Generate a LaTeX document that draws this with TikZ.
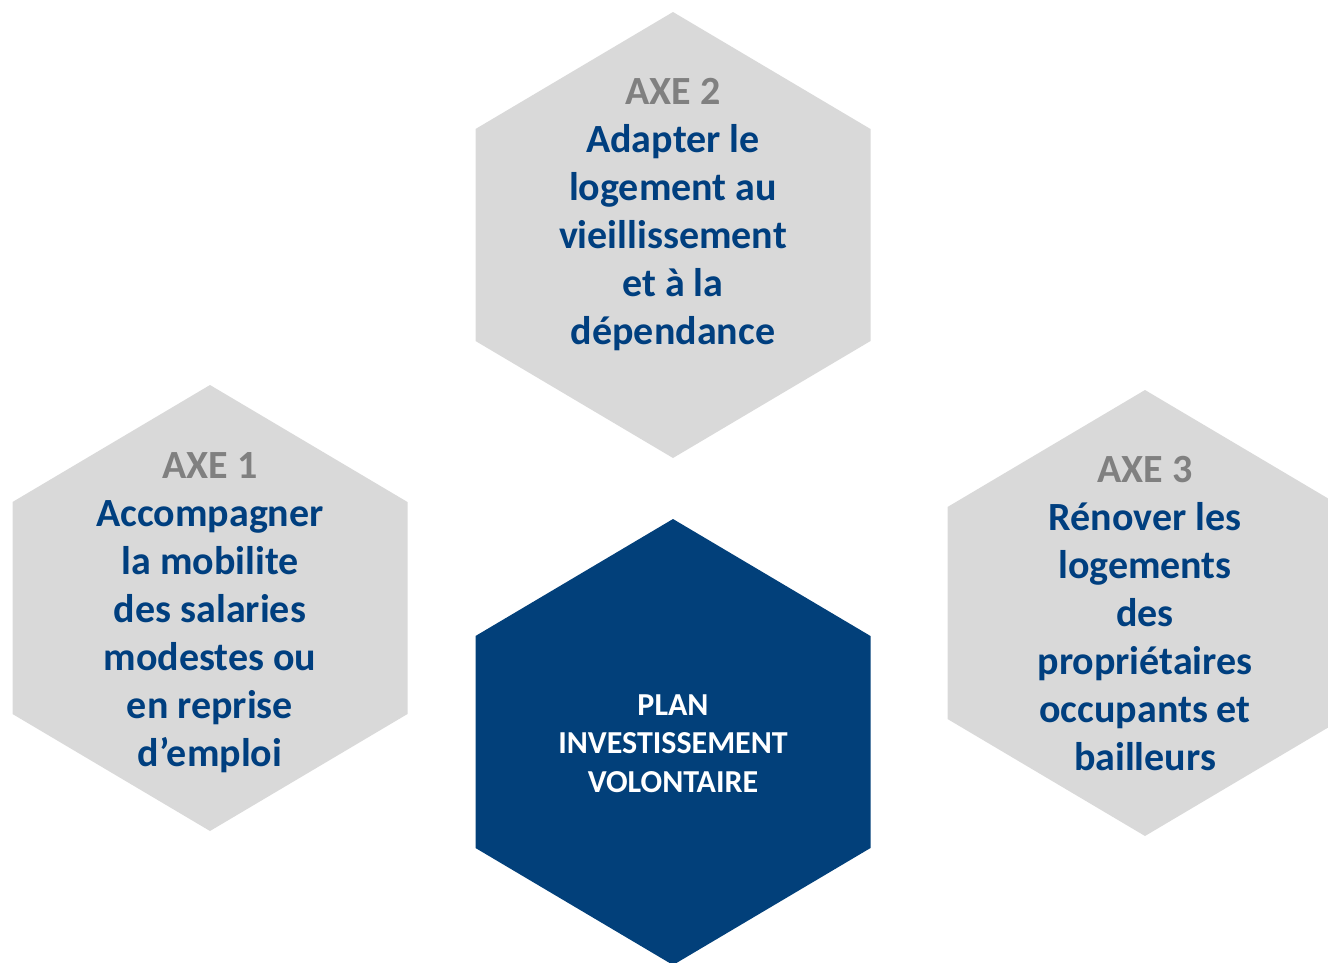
\documentclass[tikz,border=0pt]{standalone}
\usepackage{fontspec}
\setmainfont{Carlito}
\definecolor{hexgray}{HTML}{D9D9D9}
\definecolor{hexblue}{HTML}{02407A}
\definecolor{txtblue}{HTML}{003F7F}
\definecolor{axegray}{HTML}{808080}
\tikzset{
  axetext/.style={align=center, text=txtblue, font=\bfseries\fontsize{40}{48}\selectfont, inner sep=0pt},
  plantext/.style={align=center, text=white, font=\bfseries\fontsize{32}{38.5}\selectfont, inner sep=0pt}
}
\newcommand\hexagone[3]{%
  \fill[#3] (#1,#2) -- ++(197.5,117) -- ++(0,212) -- ++(-197.5,117) -- ++(-197.5,-117) -- ++(0,-212) -- cycle;}
\begin{document}
\begin{tikzpicture}[x=1pt,y=-1pt]
\useasboundingbox (0,0) rectangle (1328,962);
\begin{scope}
\clip (0,0) rectangle (1328,962);
\hexagone{673}{12}{hexgray}
\hexagone{210}{385}{hexgray}
\hexagone{1145}{390}{hexgray}
\hexagone{673}{519}{hexblue}
\end{scope}
\node[axetext] (axe2) at (673,215) {\textcolor{axegray}{AXE 2}\\Adapter le\\logement au\\vieillissement\\et à la\\dépendance};
\node[axetext] (axe1) at (210,612.5) {\textcolor{axegray}{AXE 1}\\Accompagner\\la mobilite\\des salaries\\modestes ou\\en reprise\\d’emploi};
\node[axetext] (axe3) at (1145,613.5) {\textcolor{axegray}{AXE 3}\\Rénover les\\logements\\des\\propriétaires\\occupants et\\bailleurs};
\node[plantext] (plan) at (673,743.5) {PLAN\\INVESTISSEMENT\\VOLONTAIRE};
\end{tikzpicture}
\end{document}
